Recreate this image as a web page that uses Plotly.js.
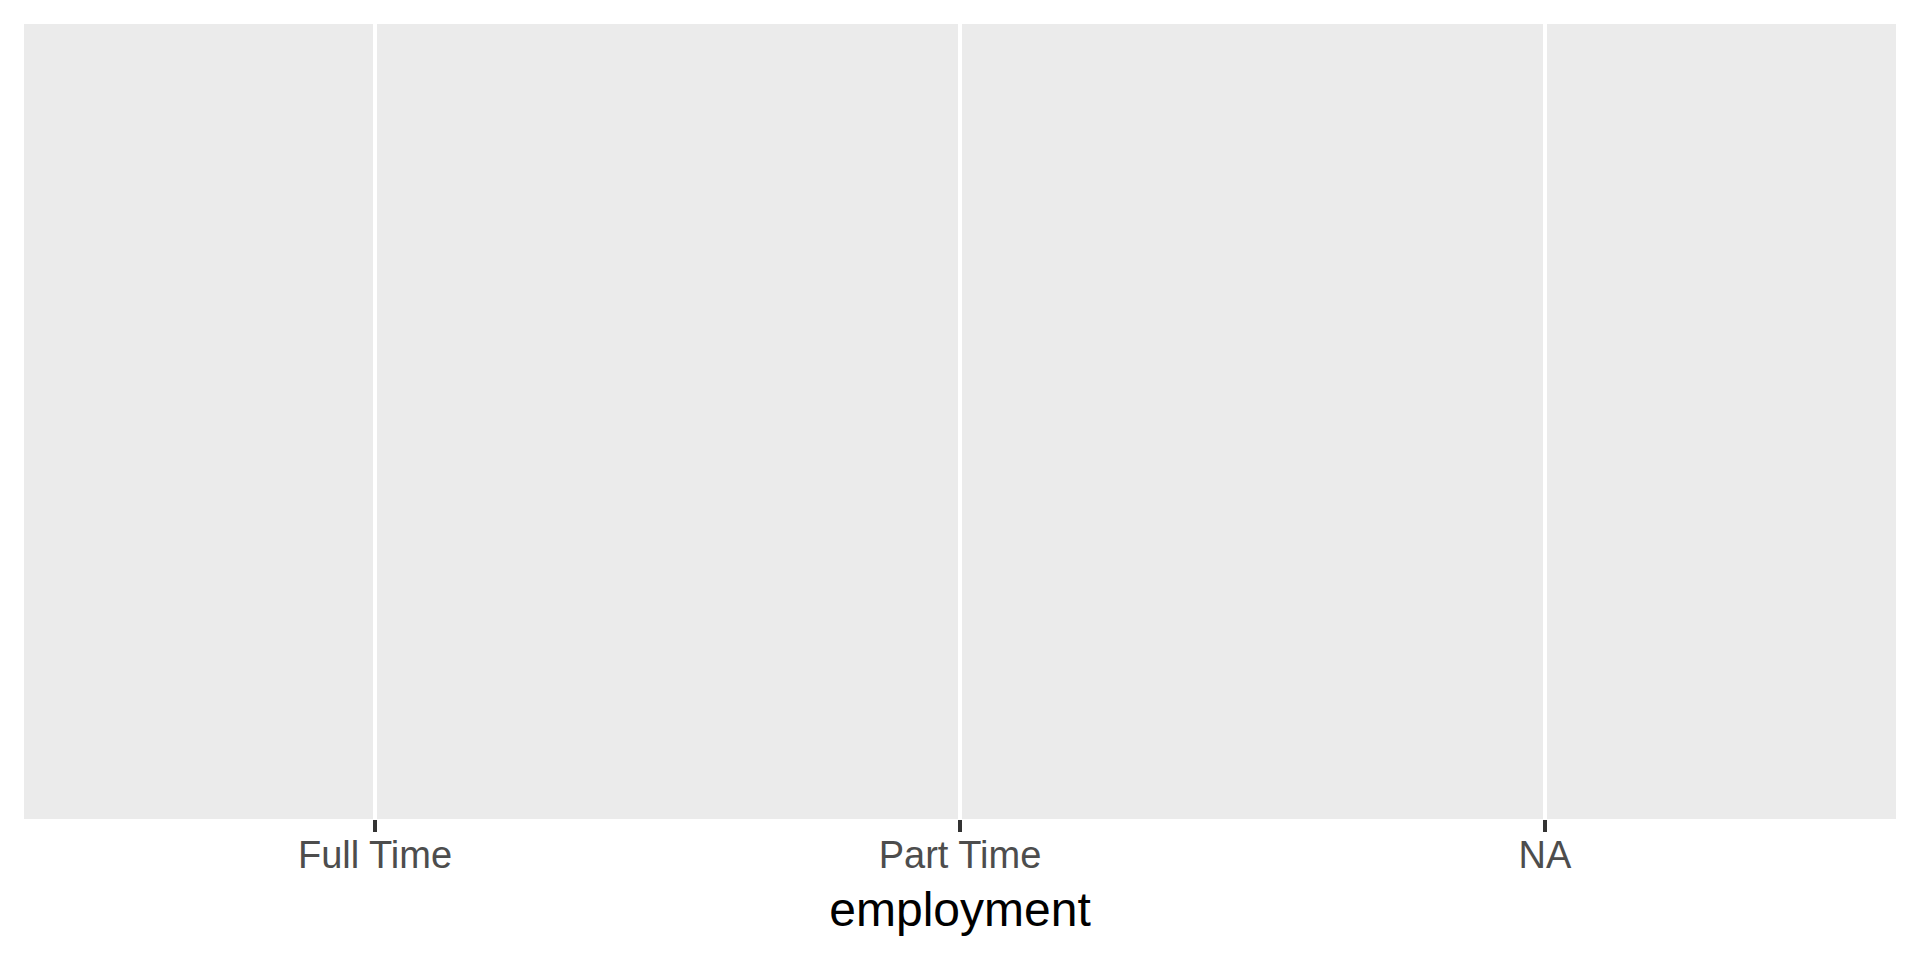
<!DOCTYPE html>
<html>
<head>
<meta charset="utf-8">
<script src="https://cdn.plot.ly/plotly-3.0.1.min.js"></script>
<style>html,body{margin:0;padding:0;background:#fff;}#chart{width:1920px;height:960px;}</style>
</head>
<body>
<div id="chart"></div>
<script>
// Categories on the x axis (no data values are drawn in the reference)
const categories = ["Full Time", "Part Time", "NA"];
const values = [null, null, null];
const xTitle = "employment";

const trace = {
  type: "scatter",
  mode: "markers",
  x: categories,
  y: values,
  hoverinfo: "skip",
  showlegend: false
};

const layout = {
  width: 1920,
  height: 960,
  margin: {l: 24, r: 24, t: 24, b: 141, pad: 0},
  paper_bgcolor: "#FFFFFF",
  plot_bgcolor: "#EBEBEB",
  font: {family: "Liberation Sans, Arial, sans-serif"},
  xaxis: {
    type: "category",
    categoryorder: "array",
    categoryarray: categories,
    range: [-0.6, 2.6],
    showgrid: true,
    gridcolor: "#FFFFFF",
    gridwidth: 4.5,
    zeroline: false,
    showline: false,
    ticks: "outside",
    ticklen: 12,
    tickwidth: 4.5,
    tickcolor: "#333333",
    ticklabelstandoff: -10,
    tickfont: {family: "Liberation Sans, Arial, sans-serif", size: 38, color: "#4D4D4D"},
    title: {text: xTitle, font: {family: "Liberation Sans, Arial, sans-serif", size: 48, color: "#000000"}, standoff: 17},
    fixedrange: true
  },
  yaxis: {
    range: [0, 1],
    showgrid: false,
    zeroline: false,
    showticklabels: false,
    ticks: "",
    showline: false,
    fixedrange: true
  }
};

Plotly.newPlot("chart", [trace], layout, {displayModeBar: false, staticPlot: true});
</script>
</body>
</html>
